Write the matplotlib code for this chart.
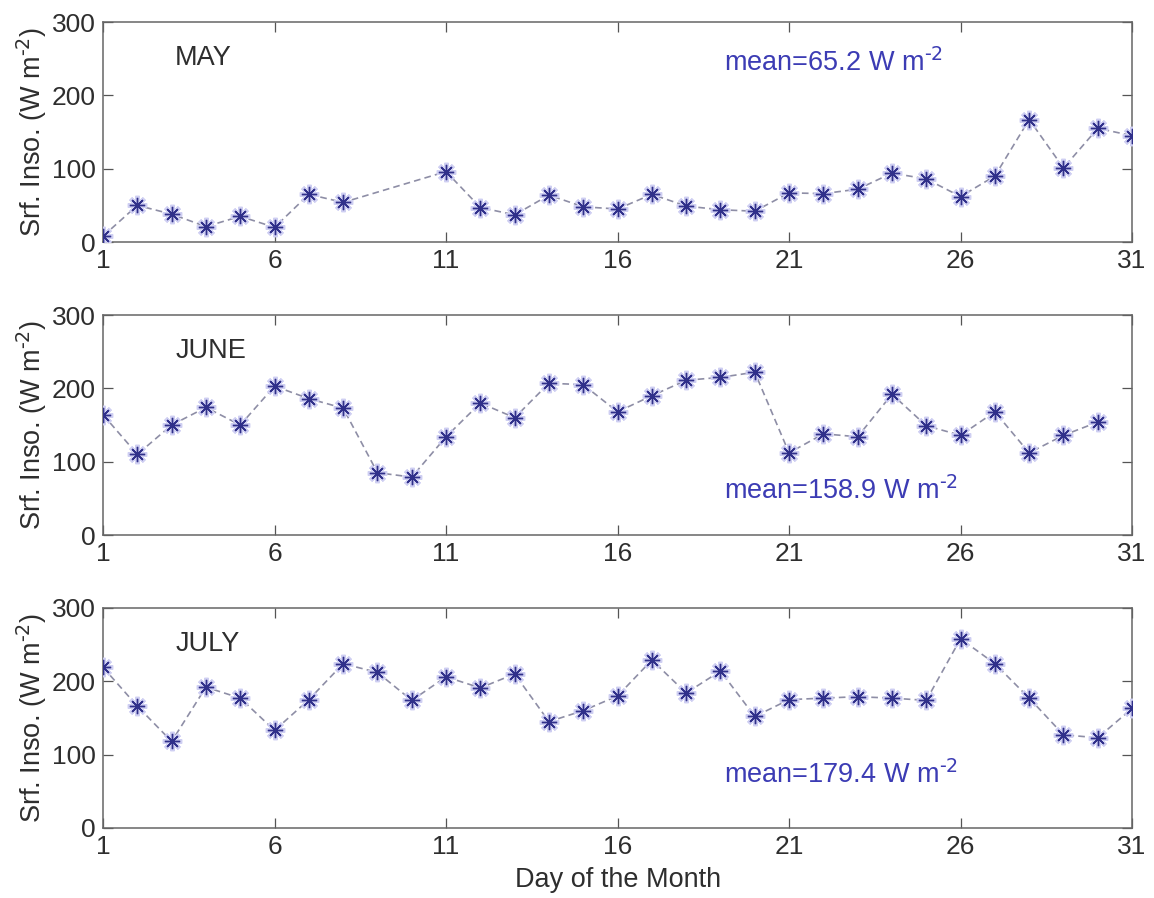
import numpy as np
import matplotlib
matplotlib.use("Agg")
import matplotlib.pyplot as plt

plt.rcParams['font.family'] = ['Liberation Sans', 'DejaVu Sans']

days_may = [1, 2, 3, 4, 5, 6, 7, 8, 11, 12, 13, 14, 15, 16, 17, 18, 19, 20,
            21, 22, 23, 24, 25, 26, 27, 28, 29, 30, 31]
may = [8, 50, 38, 21, 35, 20, 65, 54, 96, 47, 37, 64, 48, 45, 65, 49, 44, 42,
       67, 66, 72, 94, 86, 62, 90, 167, 101, 155, 145]

days_june = list(range(1, 31))
june = [164, 110, 150, 174, 150, 203, 186, 173, 85, 79, 134, 180, 160, 207, 205,
        168, 190, 211, 215, 222, 112, 138, 134, 192, 149, 136, 168, 112, 136, 154]

days_july = list(range(1, 32))
july = [219, 166, 118, 192, 177, 133, 175, 224, 212, 174, 206, 191, 210, 145, 160,
        180, 229, 184, 214, 152, 175, 177, 179, 177, 174, 258, 224, 177, 127, 123, 163]

months = ["MAY", "JUNE", "JULY"]
means = ["mean=65.2 W m$^{\\text{-2}}$", "mean=158.9 W m$^{\\text{-2}}$",
         "mean=179.4 W m$^{\\text{-2}}$"]
mean_y = [244, 61, 72]
xticks = [1, 6, 11, 16, 21, 26, 31]
yticks = [0, 100, 200, 300]

data = [(days_may, may), (days_june, june), (days_july, july)]

fig = plt.figure(figsize=(11.54, 8.98), dpi=100)
left, width, height = 0.0893, 0.8917, 0.245
bottoms = [0.7305, 0.4042, 0.078]

text_col = '#2e2e2e'
for i, ((d, v), b) in enumerate(zip(data, bottoms)):
    ax = fig.add_axes([left, b, width, height])
    ax.plot(d, v, linestyle=(0, (4, 2.5)), color='#8e8ea6', linewidth=1.2, zorder=2)
    ax.plot(d, v, linestyle='none', marker=(8, 2, 0), markersize=14,
            markeredgecolor='#cfcff2', markeredgewidth=3.0, zorder=3)
    ax.plot(d, v, linestyle='none', marker=(8, 2, 0), markersize=11,
            markeredgecolor='#30308a', markeredgewidth=1.0, zorder=4)
    ax.set_xlim(1, 31)
    ax.set_ylim(0, 300)
    ax.set_xticks(xticks)
    ax.set_yticks(yticks)
    ax.tick_params(direction='in', top=True, right=True, length=7, width=0.9,
                   labelsize=19, colors='#555555', labelcolor=text_col, pad=5)
    for s in ax.spines.values():
        s.set_color('#666666')
        s.set_linewidth(1.1)
    ax.set_ylabel("Srf. Inso. (W m$^{\\text{-2}}$)", fontsize=19.5, color=text_col,
                  labelpad=2)
    ax.text(3.1, 251, months[i], fontsize=19.5, color=text_col, va='center', ha='left')
    ax.text(19.1, mean_y[i], means[i], fontsize=19.5, color='#3c3cb4',
            va='center', ha='left')
    if i == 2:
        ax.set_xlabel("Day of the Month", fontsize=19.5, color=text_col, labelpad=6)

fig.savefig("out.png", dpi=100)
